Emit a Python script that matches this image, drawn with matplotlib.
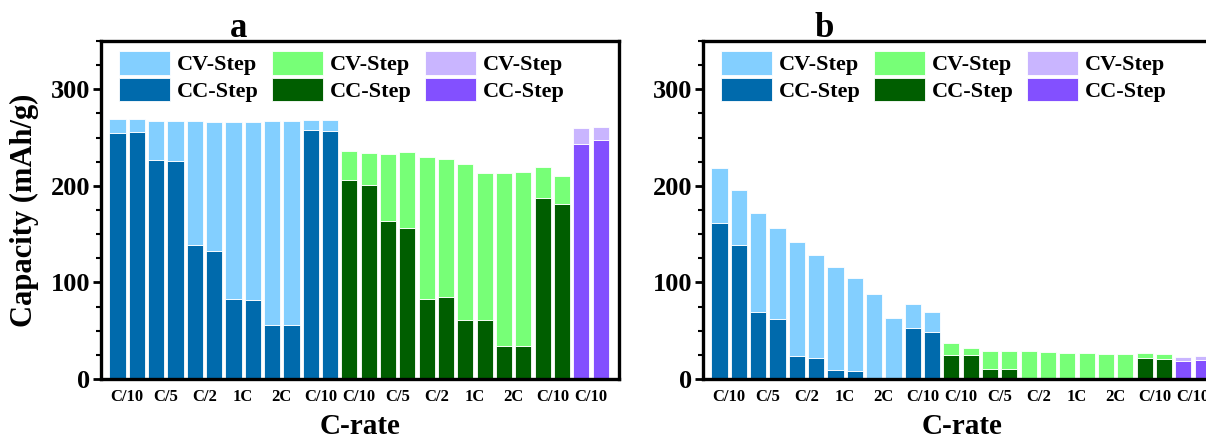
import numpy as np
import matplotlib
matplotlib.use("Agg")
import matplotlib.pyplot as plt

plt.rcParams['font.family'] = ['Liberation Serif', 'DejaVu Serif']
plt.rcParams['font.weight'] = 'bold'

# tick labels under each pair of bars
rate_labels = ["C/10", "C/5", "C/2", "1C", "2C", "C/10",
               "C/10", "C/5", "C/2", "1C", "2C", "C/10", "C/10"]

# panel a: total capacity (CC + CV) and CC part, mAh/g
a_total = [269.2, 269.0, 267.5, 267.5, 267.0, 266.4, 265.7, 266.4, 267.0, 267.0, 268.5, 267.8,
           236.3, 234.3, 233.2, 235.0, 229.4, 228.0, 222.5, 213.8, 212.8, 214.2, 219.4, 210.0,
           260.2, 261.2]
a_cc = [254.3, 255.4, 226.6, 225.6, 138.4, 132.9, 82.7, 81.7, 56.4, 56.4, 257.8, 256.4,
        205.9, 201.0, 163.7, 156.0, 83.0, 85.1, 60.6, 60.9, 34.3, 34.3, 187.2, 181.7,
        243.6, 247.4]

# panel b
b_total = [218.7, 195.2, 171.6, 156.4, 141.5, 128.4, 115.6, 104.2, 88.2, 63.3, 77.2, 69.6,
           37.4, 31.8, 29.1, 28.7, 28.7, 28.0, 27.3, 27.0, 26.3, 25.6, 27.0, 26.3,
           22.5, 23.5]
b_cc = [161.6, 138.4, 69.6, 62.3, 23.5, 22.1, 9.7, 8.0, 0.0, 0.0, 53.3, 48.4,
        24.6, 25.3, 10.7, 10.0, 0.0, 0.0, 0.0, 0.0, 0.0, 0.0, 21.5, 20.4,
        18.3, 19.7]

# bar groups: (first, last+1, CV colour, CC colour)
groups = [(0, 12, "#83CFFF", "#006AAC"),
          (12, 24, "#77FF77", "#005E00"),
          (24, 26, "#C9B5FF", "#8350FF")]

fig = plt.figure(figsize=(12.06, 4.4), dpi=100)
W, H = 1206.0, 440.0
ax_a = fig.add_axes([101 / W, 61 / H, 518 / W, 338 / H])
ax_b = fig.add_axes([703 / W, 61 / H, 518 / W, 338 / H])


def draw(ax, total, cc, letter, title_x):
    total = np.array(total)
    cc = np.array(cc)
    cv = total - cc
    x = np.arange(len(total))
    handles = []
    for s, e, c_cv, c_cc in groups:
        h_cc = ax.bar(x[s:e], cc[s:e], width=0.84, color=c_cc,
                      edgecolor="white", linewidth=0.6, label="CC-Step")
        h_cv = ax.bar(x[s:e], cv[s:e], bottom=cc[s:e], width=0.84, color=c_cv,
                      edgecolor="white", linewidth=0.6, label="CV-Step")
        handles += [h_cv, h_cc]
    ax.set_xlim(-0.85, 25.95)
    ax.set_ylim(0, 350)
    ax.set_yticks([0, 100, 200, 300])
    ax.set_yticks(np.arange(0, 351, 25), minor=True)
    ax.set_xticks(np.arange(0.5, 25, 2))
    ax.set_xticklabels(rate_labels, fontsize=12, fontweight='bold')
    ax.tick_params(axis='x', length=0, pad=7)
    ax.tick_params(axis='y', which='major', direction='out', length=6, width=2,
                   labelsize=19, pad=2)
    ax.tick_params(axis='y', which='minor', direction='out', length=3.5, width=1.5)
    for sp in ax.spines.values():
        sp.set_linewidth(2.4)
    ax.set_xlabel("C-rate", fontsize=21, fontweight='bold', labelpad=6)
    ax.text(title_x, 1.012, letter, transform=ax.transAxes, fontsize=25,
            fontweight='bold', ha='center', va='baseline')
    labels = [h.get_label() for h in handles]
    ax.legend(handles, labels, ncol=3, loc='upper left',
              bbox_to_anchor=(0.035, 0.97), frameon=False, borderpad=0,
              borderaxespad=0, handlelength=2.3, handleheight=1.25,
              labelspacing=0.1, handletextpad=0.3, columnspacing=0.6,
              prop={'weight': 'bold', 'size': 16})


draw(ax_a, a_total, a_cc, "a", 0.265)
draw(ax_b, b_total, b_cc, "b", 0.234)
ax_a.set_ylabel("Capacity (mAh/g)", fontsize=22, fontweight='bold', labelpad=8)

fig.savefig("out.png", dpi=100)
